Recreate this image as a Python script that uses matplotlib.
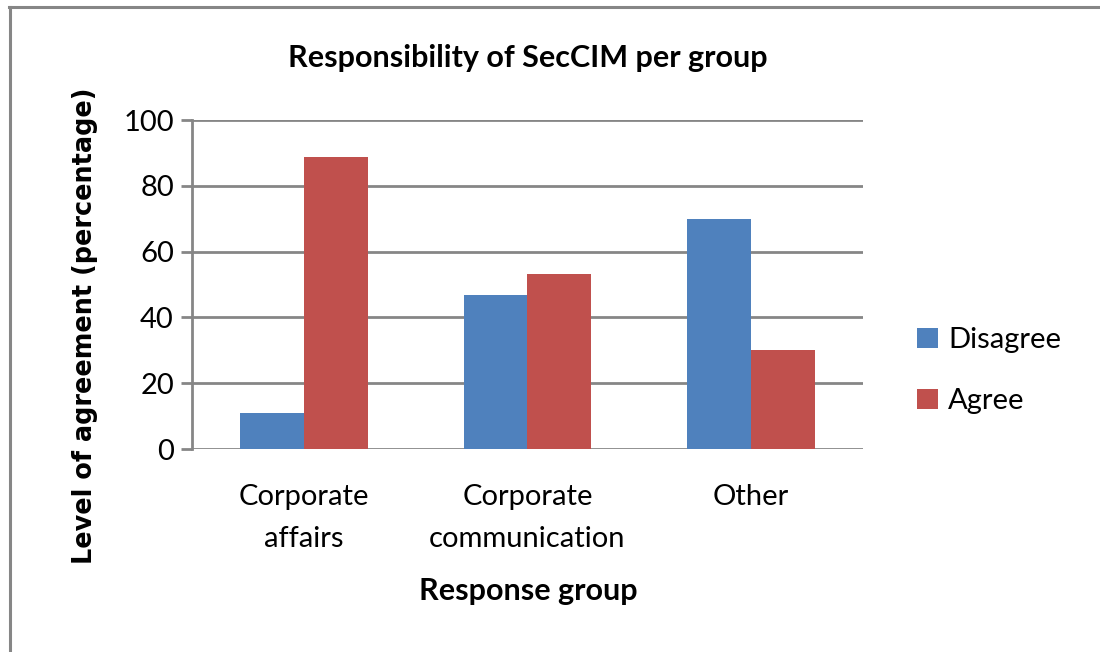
import numpy as np
import matplotlib.pyplot as plt
from matplotlib.lines import Line2D

# Data
groups = ["Corporate\naffairs", "Corporate\ncommunication", "Other"]
disagree = [11.1, 46.7, 70.0]
agree = [88.9, 53.3, 30.0]

blue = "#4F81BD"
red = "#C0504D"
grey = "#868686"

plt.rcParams['font.family'] = ['Lato', 'DejaVu Sans']

fig = plt.figure(figsize=(11, 6.52), dpi=100)
ax = fig.add_axes([0.1745, 0.3113, 0.61, 0.5046])

x = np.arange(len(groups))
w = 0.2857
ax.bar(x - w/2, disagree, w, color=blue, label="Disagree", zorder=3)
ax.bar(x + w/2, agree, w, color=red, label="Agree", zorder=3)

ax.set_xlim(-0.5, 2.5)
ax.set_ylim(0, 100)
ax.set_yticks(range(0, 101, 20))
ax.set_xticks(x)
ax.set_xticklabels(groups, fontsize=21, linespacing=1.75)
ax.tick_params(axis='y', labelsize=21, length=8, width=2, color=grey, pad=5)
ax.tick_params(axis='x', length=0, pad=25)
ax.yaxis.grid(True, color=grey, linewidth=2, zorder=0)
for s in ["top", "right", "bottom"]:
    ax.spines[s].set_visible(False)
ax.spines["left"].set_color(grey)
ax.spines["left"].set_linewidth(2)
ax.spines["left"].set_zorder(4)

ax.set_title("Responsibility of SecCIM per group", fontsize=22, fontweight="bold", pad=38)
fig.text(0.48, 0.093, "Response group", fontsize=22, fontweight="bold", ha="center", va="center")
fig.text(0.077, 0.5, "Level of agreement (percentage)", fontsize=18.4, fontweight="bold",
         rotation=90, ha="center", va="center", family="DejaVu Sans")

fig.legend(loc="center left", bbox_to_anchor=(0.81, 0.431), frameon=False, fontsize=21,
           handlelength=0.7, handleheight=0.7, handletextpad=0.35, labelspacing=1.2)

# outer frame (top and left edges only)
fig.add_artist(Line2D([0.008, 1.0], [0.989, 0.989], color=grey, linewidth=2.2, transform=fig.transFigure))
fig.add_artist(Line2D([0.0091, 0.0091], [0.0, 0.989], color=grey, linewidth=2.2, transform=fig.transFigure))

fig.savefig("out.png", dpi=100)
